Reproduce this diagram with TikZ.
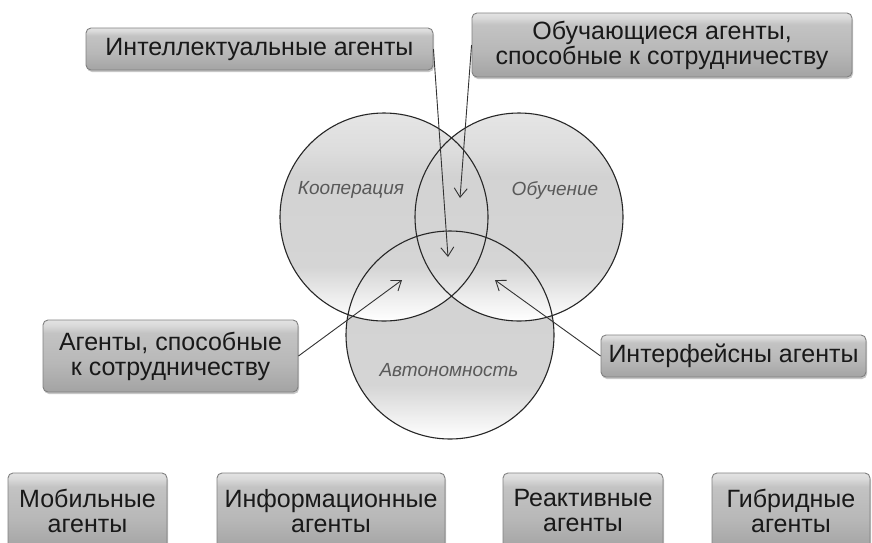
\documentclass[tikz,border=0pt]{standalone}
\usepackage{fontspec}
\setmainfont{Liberation Sans}
\usetikzlibrary{arrows.meta,shadows}

% glossy grey fill of the three discs
\pgfdeclareverticalshading{discshade}{100bp}{color(0bp)=(white); color(25bp)=(white); color(30bp)=(gray!12); color(38bp)=(gray!33); color(60bp)=(gray!35); color(66bp)=(gray!27); color(75bp)=(gray!20); color(100bp)=(gray!20)}
% grey button fill of the labels
\pgfdeclareverticalshading{tagshade}{100bp}{color(0bp)=(gray!72); color(25bp)=(gray!72); color(45bp)=(gray!56); color(66bp)=(gray!47); color(71bp)=(gray!30); color(75bp)=(gray!22); color(100bp)=(gray!22)}

\begin{document}
\begin{tikzpicture}[x=1pt,y=-1pt,
  disc/.style={circle, minimum size=208pt, inner sep=0pt, shading=discshade},
  ring/.style={draw=black!85, line width=1.1pt},
  disclabel/.style={font=\fontsize{19}{22}\selectfont\itshape, text=black!65},
  tagbox/.style={draw=black!50, line width=0.9pt, rounded corners=5pt,
    shading=tagshade, align=center, inner sep=0pt,
    font=\fontsize{25}{25}\selectfont, text=black!90,
    drop shadow={shadow xshift=1pt, shadow yshift=-2pt, fill=black, opacity=0.22}},
  pointer/.style={draw=black!80, line width=0.9pt, -{Straight Barb[length=9pt,width=13pt]}}]

\useasboundingbox (0,0) rectangle (872,542);
\clip (0,0) rectangle (872,542);
\fill[white] (0,0) rectangle (872,542);

% the three sets
\node[disc] (auto) at (450,335) {};
\node[disc] (coop) at (384,217) {};
\node[disc] (learn) at (519,217) {};
\draw[ring] (auto.center) circle[radius=104pt];
\draw[ring] (coop.center) circle[radius=104pt];
\draw[ring] (learn.center) circle[radius=104pt];

\node[disclabel] (coopname) at (351,190) {Кооперация};
\node[disclabel] (learnname) at (555,190) {Обучение};
\node[disclabel] (autoname) at (449,370) {Автономность};

% agent kinds pointing into the sets
\node[tagbox, minimum width=347pt, minimum height=42pt] (intel) at (259.5,49) {Интеллектуальные агенты};
\node[tagbox, minimum width=380pt, minimum height=64pt] (learncoop) at (662,45) {Обучающиеся агенты,\\способные к сотрудничеству};
\node[tagbox, minimum width=255pt, minimum height=72pt] (coopag) at (170.5,356) {Агенты, способные\\к сотрудничеству};
\node[tagbox, minimum width=265pt, minimum height=42pt] (iface) at (733.5,356) {Интерфейсны агенты};

\coordinate (tipIntel) at (448,257);
\coordinate (tipLearnCoop) at (460,198);
\coordinate (tipCoop) at (402,280);
\coordinate (tipIface) at (495,280);

\draw[pointer] (intel.east) -- (tipIntel);
\draw[pointer] (learncoop.west) -- (tipLearnCoop);
\draw[pointer] (coopag.east) -- (tipCoop);
\draw[pointer] (iface.west) -- (tipIface);

% remaining agent kinds
\node[tagbox, minimum width=159pt, minimum height=76pt] (mobile) at (87.5,511) {Мобильные\\агенты};
\node[tagbox, minimum width=228pt, minimum height=76pt] (info) at (331,511) {Информационные\\агенты};
\node[tagbox, minimum width=160pt, minimum height=76pt] (react) at (583,511) {Реактивные\\агенты};
\node[tagbox, minimum width=158pt, minimum height=76pt] (hybrid) at (791,511) {Гибридные\\агенты};
\end{tikzpicture}
\end{document}
